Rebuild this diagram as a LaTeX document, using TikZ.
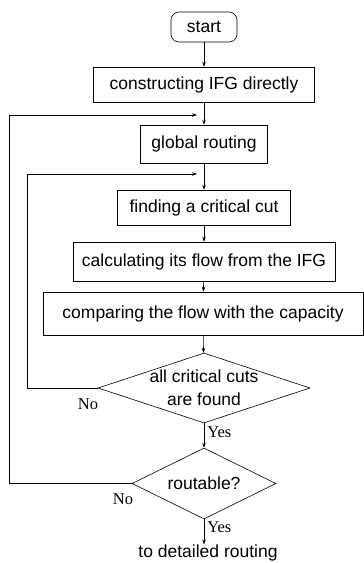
\documentclass[tikz,border=0pt]{standalone}
\usepackage{fontspec}
\setmainfont{Liberation Serif}
\setsansfont{Liberation Sans}
\usetikzlibrary{shapes.geometric,arrows.meta}

\begin{document}
\begin{tikzpicture}[x=1pt,y=-1pt,line width=0.6pt,>={Stealth[length=5pt,width=3.5pt]}]
\tikzstyle{every node}+=[inner sep=0pt]
\tikzstyle{proc}=[draw, font=\sffamily\fontsize{17.5}{20}\selectfont]
\tikzstyle{test}=[draw, diamond, aspect=3, inner sep=-2pt, align=center, font=\sffamily\fontsize{17.5}{23}\selectfont]
\tikzstyle{answer}=[font=\fontsize{16.5}{19}\selectfont]
\useasboundingbox (0,0) rectangle (364,563);
% boxes
\node [proc, rounded corners=8pt, minimum width=66pt, minimum height=30pt] (start) at (204,27) {start};
\node [proc, minimum width=221pt, minimum height=35pt] (ifg) at (204,84.5) {constructing IFG directly};
\node [proc, minimum width=127pt, minimum height=38pt] (glob) at (204,144) {global routing};
\node [proc, minimum width=173pt, minimum height=35pt] (cut) at (204,207.5) {finding a critical cut};
\node [proc, minimum width=262pt, minimum height=39pt] (flow) at (204,261.5) {calculating its flow from the IFG};
\node [proc, minimum width=320pt, minimum height=43pt] (cmp) at (203,313.5) {comparing the flow with the capacity};
% decisions
\node [test, minimum width=212pt, minimum height=70pt] (cuts) at (204,388) {all critical cuts\\are found};
\node [test, minimum width=144pt, minimum height=71pt] (rt) at (204,483.5) {routable?};
\node [font=\sffamily\fontsize{17.5}{20}\selectfont] (out) at (208,553) {to detailed routing};
\coordinate (back1) at (197,115);
\coordinate (back2) at (197,174);
% flow
\draw [->] (start) -- (ifg);
\draw [->] (ifg) -- (glob);
\draw [->] (glob) -- (cut);
\draw [->] (cut) -- (flow);
\draw [->] (flow) -- (cmp);
\draw [->] (cmp) -- (cuts);
\draw [->] (cuts) -- (rt);
\draw [->] (rt.south) -- (rt.south |- out.north);
\node [answer, anchor=west] at (207,432) {Yes};
\node [answer, anchor=west] at (207,527) {Yes};
% loops
\draw [->] (cuts.west) -- ++(-70,0) |- (back2);
\node [answer] at (88,404) {No};
\draw [->] (rt.west) -- ++(-122,0) |- (back1);
\node [answer] at (123,499) {No};
\end{tikzpicture}
\end{document}
